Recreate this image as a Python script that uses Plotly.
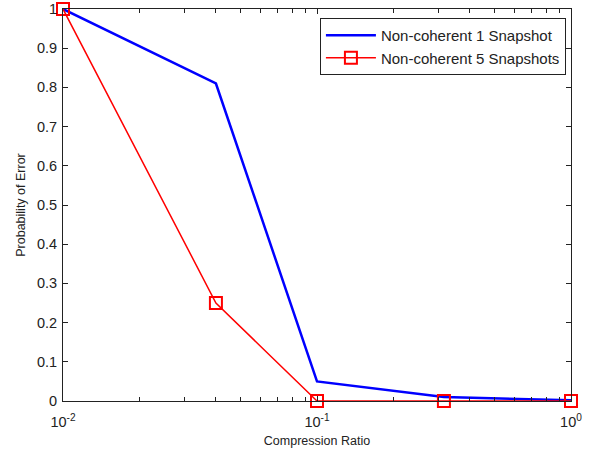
import plotly.graph_objects as go

ratio = [0.01, 0.04, 0.1, 0.316, 1.0]
err_1snap = [1.0, 0.81, 0.05, 0.01, 0.002]
err_5snap = [1.0, 0.25, 0.0, 0.0, 0.0]

x_tickvals = [0.01, 0.1, 1]
x_ticktext = ["10<sup>-2</sup>", "10<sup>-1</sup>", "10<sup>0</sup>"]
y_tickvals = [0, 0.1, 0.2, 0.3, 0.4, 0.5, 0.6, 0.7, 0.8, 0.9, 1]
y_ticktext = ["0", "0.1", "0.2", "0.3", "0.4", "0.5", "0.6", "0.7", "0.8", "0.9", "1"]
minor_vals = [m * d for d in (0.01, 0.1) for m in range(2, 10)]

fig = go.Figure()
fig.add_trace(go.Scatter(x=ratio, y=err_1snap, mode="lines", name="Non-coherent 1 Snapshot",
                         line=dict(color="#0000ff", width=2.5), cliponaxis=False))
fig.add_trace(go.Scatter(x=ratio, y=err_5snap, mode="lines+markers", name="Non-coherent 5 Snapshots",
                         line=dict(color="#ff0000", width=1.5),
                         marker=dict(symbol="square-open", size=12, color="#ff0000", line=dict(width=2)),
                         cliponaxis=False))

font = "Liberation Sans, Arial, sans-serif"
fig.update_layout(
    width=594, height=453,
    margin=dict(l=63, r=23, t=9, b=52),
    paper_bgcolor="white", plot_bgcolor="white",
    font=dict(family=font, size=12, color="#222222"),
    showlegend=True,
    legend=dict(x=0.99, y=0.977, xanchor="right", yanchor="top",
                bgcolor="white", bordercolor="#222222", borderwidth=1,
                font=dict(size=15, family=font), tracegroupgap=0, itemwidth=50),
    xaxis=dict(type="log", range=[-2, 0], tickvals=x_tickvals, ticktext=x_ticktext,
               ticks="inside", ticklen=5, tickcolor="#222222", showgrid=False, zeroline=False,
               showline=True, linecolor="#222222", linewidth=1, mirror="ticks",
               minor=dict(tickvals=minor_vals, ticks="inside", ticklen=4, tickcolor="#222222", showgrid=False),
               ticklabelstandoff=8, automargin=False,
               title=dict(text="Compression Ratio", standoff=6, font=dict(size=12.5)),
               tickfont=dict(size=14.5)),
    yaxis=dict(range=[0, 1], tickvals=y_tickvals, ticktext=y_ticktext,
               ticks="inside", ticklen=5, tickcolor="#222222", showgrid=False, zeroline=False,
               showline=True, linecolor="#222222", linewidth=1, mirror="ticks",
               ticklabelstandoff=2, automargin=False,
               title=dict(text="Probability of Error", standoff=8, font=dict(size=12.5)),
               tickfont=dict(size=14.5)),
)
fig.write_html("out.html")
